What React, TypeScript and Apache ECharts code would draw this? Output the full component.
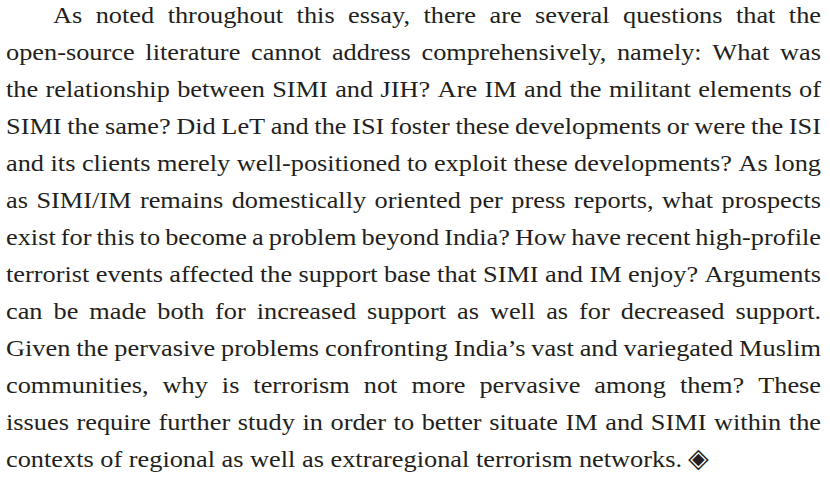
import React, { useEffect, useRef } from "react";
import * as echarts from "echarts";

// Paragraph lines as set in the reference (justified, first line indented)
const lines: string[] = [
  "As noted throughout this essay, there are several questions that the",
  "open-source literature cannot address comprehensively, namely: What was",
  "the relationship between SIMI and JIH? Are IM and the militant elements of",
  "SIMI the same? Did LeT and the ISI foster these developments or were the ISI",
  "and its clients merely well-positioned to exploit these developments? As long",
  "as SIMI/IM remains domestically oriented per press reports, what prospects",
  "exist for this to become a problem beyond India? How have recent high-profile",
  "terrorist events affected the support base that SIMI and IM enjoy? Arguments",
  "can be made both for increased support as well as for decreased support.",
  "Given the pervasive problems confronting India\u2019s vast and variegated Muslim",
  "communities, why is terrorism not more pervasive among them? These",
  "issues require further study in order to better situate IM and SIMI within the",
  "contexts of regional as well as extraregional terrorism networks.",
];
const END_MARK = "\u25C8";

const FONT_FAMILY = '"Liberation Serif", "DejaVu Serif", serif';
const MARK_FONT = '"DejaVu Sans", sans-serif';
const FONT_SIZE = 24;
const MARK_SIZE = 27;
const TEXT_COLOR = "#231f20";
const LEFT = 6;
const RIGHT = 821;
const INDENT = 53;
const LAST_TEXT_END = 682; // end of "networks." in the reference
const FIRST_BASELINE = 23;
const LINE_GAP = 37;

function buildElements() {
  const canvas = document.createElement("canvas");
  const ctx = canvas.getContext("2d")!;
  ctx.font = `${FONT_SIZE}px ${FONT_FAMILY}`;
  const measureRaw = (s: string) => ctx.measureText(s).width;
  const lastNatural = measureRaw(lines[lines.length - 1]);
  const sx = (LAST_TEXT_END - LEFT) / lastNatural;
  const measure = (s: string) => measureRaw(s) * sx;
  const spaceW = measure(" ");
  const centralOffset = 0.3375 * FONT_SIZE;
  const els: any[] = [];
  let lastX = 0;
  lines.forEach((line, i) => {
    const words = line.split(" ");
    const start = i === 0 ? INDENT : LEFT;
    const widths = words.map(measure);
    const total = widths.reduce((a, b) => a + b, 0);
    const isLast = i === lines.length - 1;
    const gap = isLast || words.length < 2 ? spaceW : (RIGHT - start - total) / (words.length - 1);
    let x = start;
    const y = FIRST_BASELINE + i * LINE_GAP - centralOffset;
    words.forEach((w, j) => {
      els.push({
        type: "text",
        x,
        y,
        scaleX: sx,
        silent: true,
        style: {
          text: w,
          fontFamily: FONT_FAMILY,
          fontSize: FONT_SIZE,
          fill: TEXT_COLOR,
          align: "left",
          verticalAlign: "middle",
        },
      });
      x += widths[j] + gap;
    });
    if (isLast) lastX = x - gap;
  });
  const lastY = FIRST_BASELINE + (lines.length - 1) * LINE_GAP;
  els.push({
    type: "text",
    x: lastX + spaceW * 0.9,
    y: lastY - 0.36 * MARK_SIZE,
    silent: true,
    style: {
      text: END_MARK,
      fontFamily: MARK_FONT,
      fontSize: MARK_SIZE,
      fill: TEXT_COLOR,
      align: "left",
      verticalAlign: "middle",
    },
  });
  return els;
}

export default function App() {
  const ref = useRef<HTMLDivElement>(null);
  useEffect(() => {
    if (!ref.current) return;
    const chart = echarts.init(ref.current, undefined, { renderer: "svg" });
    chart.setOption({
      animation: false,
      backgroundColor: "#ffffff",
      graphic: { elements: buildElements() },
    });
    return () => chart.dispose();
  }, []);
  return (
    <div
      ref={ref}
      style={{ position: "fixed", left: 0, top: 0, width: 830, height: 477, background: "#fff" }}
    />
  );
}
